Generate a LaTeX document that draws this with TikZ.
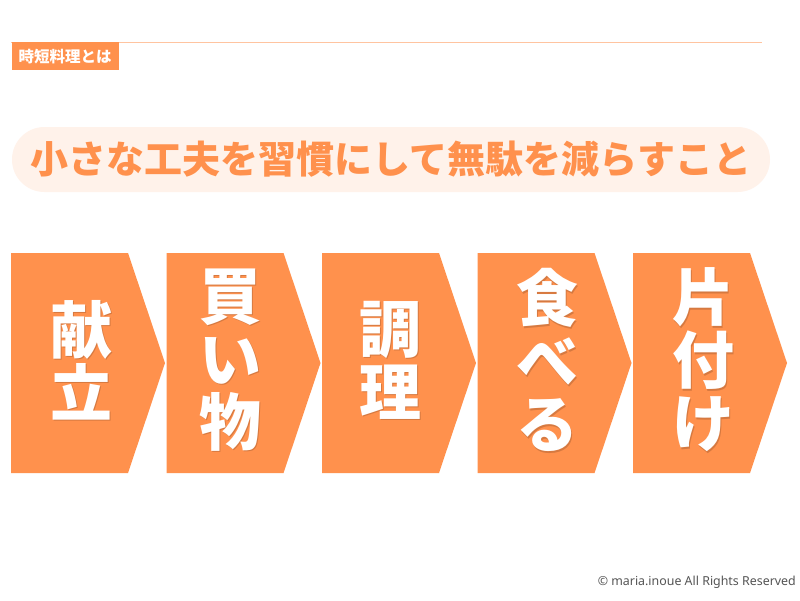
\documentclass[tikz,border=0pt]{standalone}
\usepackage{fontspec}
\newfontfamily\jpfont{Noto Sans CJK JP}
\newfontfamily\creditfont{Noto Sans}
\definecolor{mainorange}{HTML}{FF914D}
\definecolor{palepeach}{HTML}{FFF2EA}
\definecolor{lineorange}{HTML}{FFC4A0}
\definecolor{creditgray}{HTML}{555555}

\begin{document}
\begin{tikzpicture}[x=1pt,y=-1pt,
  stepword/.style={text=white, align=center, inner sep=0pt,
    font=\jpfont\bfseries\fontsize{62}{63}\selectfont},
  stepshadow/.style={stepword, text=black, opacity=0.16}]
\useasboundingbox[fill=white] (0,0) rectangle (800,600);
% header
\draw[lineorange, line width=1.5pt] (11,42.5) -- (762,42.5);
\node[fill=mainorange, text=white, anchor=north west, inner sep=0pt,
  minimum width=107, minimum height=28,
  font=\jpfont\bfseries\fontsize{15.5}{16}\selectfont] (title) at (11.5,42) {時短料理とは};
% motto
\node[fill=palepeach, rounded corners=32.5, minimum width=758, minimum height=65,
  text=mainorange, font=\jpfont\bfseries\fontsize{38}{40}\selectfont] (motto) at (391,159.5)
  {小さな工夫を習慣にして無駄を減らすこと};
% steps
\fill[mainorange] (11,253) -- ++(117,0) -- ++(37,110) -- ++(-37,110) -- ++(-117,0) -- cycle;
\fill[mainorange] (166.5,253) -- ++(117,0) -- ++(37,110) -- ++(-37,110) -- ++(-117,0) -- cycle;
\fill[mainorange] (322,253) -- ++(117,0) -- ++(37,110) -- ++(-37,110) -- ++(-117,0) -- cycle;
\fill[mainorange] (477.5,253) -- ++(117,0) -- ++(37,110) -- ++(-37,110) -- ++(-117,0) -- cycle;
\fill[mainorange] (633,253) -- ++(117,0) -- ++(37,110) -- ++(-37,110) -- ++(-117,0) -- cycle;
\node[stepshadow] at (82.5,361.5) {献\\立};
\node[stepshadow] at (231.5,361.5) {買\\い\\物};
\node[stepshadow] at (391.5,361.5) {調\\理};
\node[stepshadow] at (548.5,361.5) {食\\べ\\る};
\node[stepshadow] at (704.5,361.5) {片\\付\\け};
\node[stepword] (kondate) at (81,360) {献\\立};
\node[stepword] (kaimono) at (230,360) {買\\い\\物};
\node[stepword] (chouri) at (390,360) {調\\理};
\node[stepword] (taberu) at (547,360) {食\\べ\\る};
\node[stepword] (katazuke) at (703,360) {片\\付\\け};
% credit
\node[anchor=east, text=creditgray, inner sep=0pt,
  font=\creditfont\fontsize{12.4}{13}\selectfont] (credit) at (796,582)
  {© maria.inoue All Rights Reserved};
\end{tikzpicture}
\end{document}
